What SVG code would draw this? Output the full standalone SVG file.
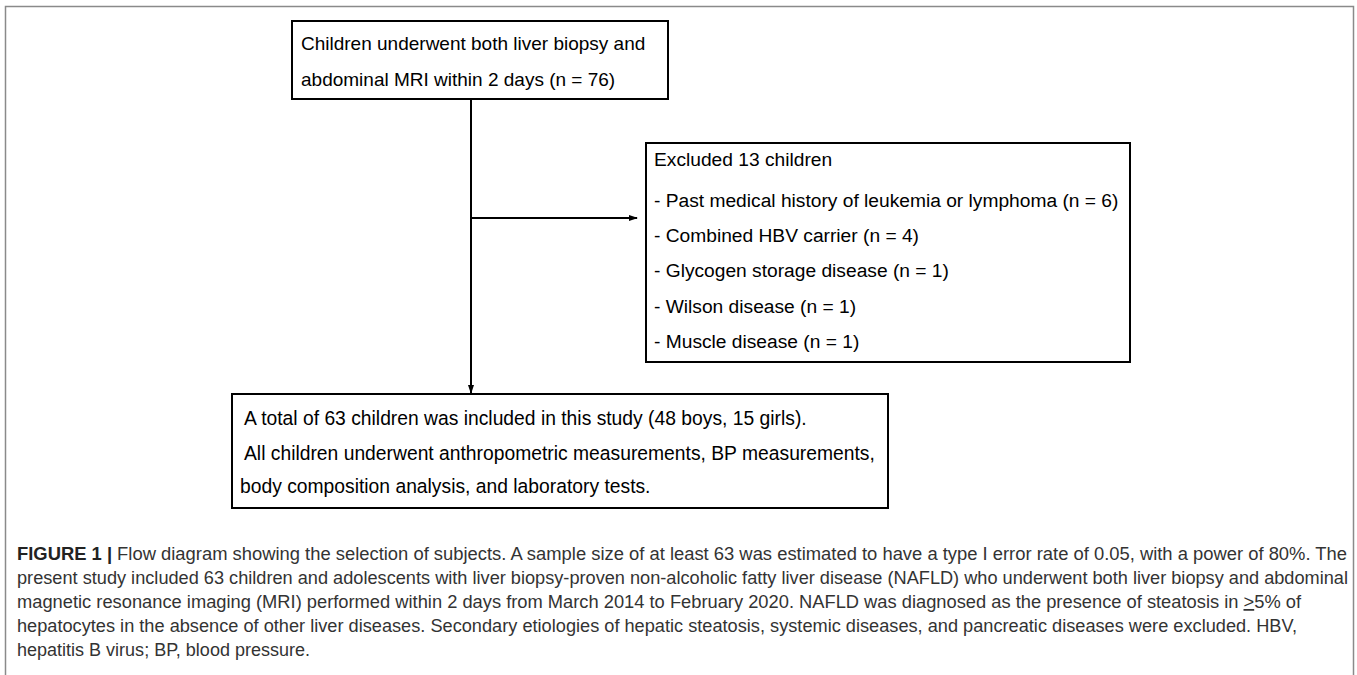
<svg xmlns="http://www.w3.org/2000/svg" width="1357" height="675" viewBox="0 0 1357 675">
<style>
.box{fill:#fff;stroke:#000;stroke-width:2}
.t{font-family:"Liberation Sans",Arial,sans-serif;font-size:19.2px;fill:#000}
.c{font-family:"Liberation Sans",Arial,sans-serif;font-size:17.5px;fill:#333}
.ln{stroke:#000;stroke-width:2;fill:none}
</style>
<defs>
<marker id="ah" markerWidth="9" markerHeight="8" refX="8" refY="4" orient="auto" markerUnits="userSpaceOnUse">
<path d="M0,1 L9,4 L0,7 Z" fill="#000"/>
</marker>
</defs>
<rect x="0" y="0" width="1357" height="675" fill="#fff"/>
<path d="M5.5,690 V6.5 H1353.5 V690" fill="none" stroke="#8a8a8a" stroke-width="1.5"/>
<g id="connectors">
<line class="ln" x1="471" y1="100" x2="471" y2="393" marker-end="url(#ah)"/>
<line class="ln" x1="471" y1="218" x2="637" y2="218" marker-end="url(#ah)"/>
</g>
<g id="node-start">
<rect class="box" x="292" y="21" width="376" height="78"/>
<text class="t" x="301" y="50" style="font-size:19px">Children underwent both liver biopsy and</text>
<text class="t" x="301" y="86" style="font-size:19px">abdominal MRI within 2 days (n = 76)</text>
</g>
<g id="node-excluded">
<rect class="box" x="646" y="143" width="484" height="219"/>
<text class="t" x="654" y="166">Excluded 13 children</text>
<text class="t" x="654" y="207">- Past medical history of leukemia or lymphoma (n = 6)</text>
<text class="t" x="654" y="242">- Combined HBV carrier (n = 4)</text>
<text class="t" x="654" y="277">- Glycogen storage disease (n = 1)</text>
<text class="t" x="654" y="313">- Wilson disease (n = 1)</text>
<text class="t" x="654" y="348">- Muscle disease (n = 1)</text>
</g>
<g id="node-included">
<rect class="box" x="232" y="394" width="656" height="114"/>
<text class="t" x="244" y="425" style="font-size:19.3px">A total of 63 children was included in this study (48 boys, 15 girls).</text>
<text class="t" x="244" y="460" style="font-size:19.3px">All children underwent anthropometric measurements, BP measurements,</text>
<text class="t" x="240" y="493" style="font-size:19.3px">body composition analysis, and laboratory tests.</text>
</g>
<g id="caption">
<text class="c" x="17" y="560" textLength="1330" lengthAdjust="spacingAndGlyphs"><tspan font-weight="bold" fill="#222">FIGURE 1 | </tspan>Flow diagram showing the selection of subjects. A sample size of at least 63 was estimated to have a type I error rate of 0.05, with a power of 80%. The</text>
<text class="c" x="17" y="584" textLength="1331" lengthAdjust="spacingAndGlyphs">present study included 63 children and adolescents with liver biopsy-proven non-alcoholic fatty liver disease (NAFLD) who underwent both liver biopsy and abdominal</text>
<text class="c" x="17" y="608" textLength="1284" lengthAdjust="spacingAndGlyphs">magnetic resonance imaging (MRI) performed within 2 days from March 2014 to February 2020. NAFLD was diagnosed as the presence of steatosis in <tspan text-decoration="underline">&gt;</tspan>5% of</text>
<text class="c" x="17" y="632" textLength="1280" lengthAdjust="spacingAndGlyphs">hepatocytes in the absence of other liver diseases. Secondary etiologies of hepatic steatosis, systemic diseases, and pancreatic diseases were excluded. HBV,</text>
<text class="c" x="17" y="656" textLength="293" lengthAdjust="spacingAndGlyphs">hepatitis B virus; BP, blood pressure.</text>
</g>
</svg>
